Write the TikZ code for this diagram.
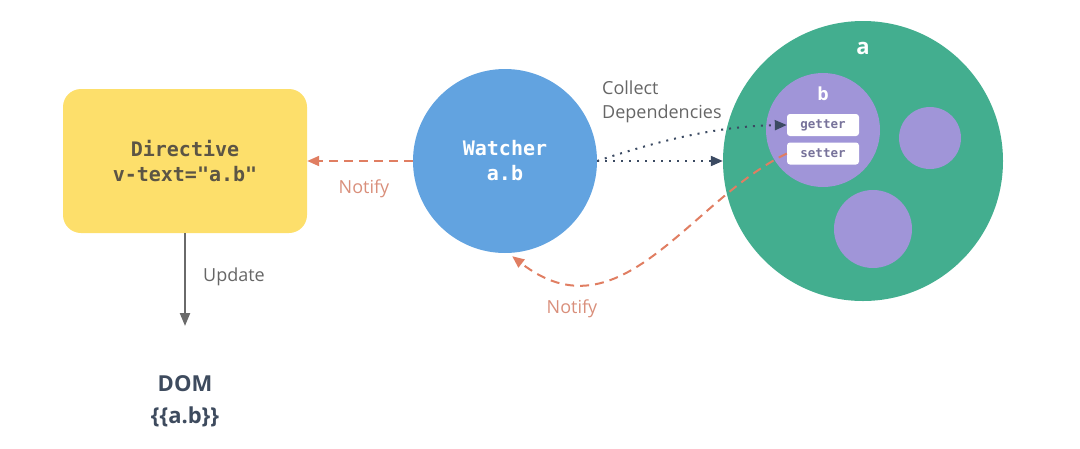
\documentclass[tikz,border=0pt]{standalone}
\usepackage{fontspec}
\setmainfont{Open Sans}
\newfontfamily\monof{DejaVu Sans Mono}
\usetikzlibrary{arrows.meta}
\definecolor{cyellow}{HTML}{FDDF6B}
\definecolor{cblue}{HTML}{62A3E0}
\definecolor{cgreen}{HTML}{43AE8F}
\definecolor{cpurple}{HTML}{A095D8}
\definecolor{cnavy}{HTML}{3B4A62}
\definecolor{csalmon}{HTML}{E07E62}
\definecolor{cnotify}{HTML}{D98F7B}
\definecolor{cgray}{HTML}{6A6A6A}
\definecolor{clabel}{HTML}{666666}
\definecolor{cdirtext}{HTML}{5C5545}
\definecolor{cgstext}{HTML}{77729A}
\definecolor{cdom}{HTML}{3E4B5E}
\tikzset{
  dirbox/.style={fill=cyellow, draw=none, rounded corners=18pt, minimum width=244pt, minimum height=144pt, align=center, text=cdirtext, font=\monof\bfseries\fontsize{20}{25}\selectfont},
  watchnode/.style={circle, fill=cblue, draw=none, minimum size=184pt, align=center, text=white, font=\monof\bfseries\fontsize{20}{25}\selectfont},
  objcircle/.style={circle, fill=cgreen, draw=none, minimum size=#1, inner sep=0pt},
  propcircle/.style={circle, fill=cpurple, draw=none, minimum size=#1, inner sep=0pt},
  accbox/.style={fill=white, draw=none, rounded corners=3pt, minimum width=72pt, minimum height=22pt, inner sep=0pt, text=cgstext, font=\monof\bfseries\fontsize{12.5}{14}\selectfont},
  circlabel/.style={text=white, font=\bfseries\fontsize{#1}{#1}\selectfont, inner sep=0pt},
  edgelabel/.style={text=clabel, font=\fontsize{18}{24}\selectfont, inner sep=0pt},
  notifylabel/.style={text=cnotify, font=\fontsize{18}{24}\selectfont, inner sep=0pt},
  notifyline/.style={draw=csalmon, line width=2pt, dash pattern=on 9pt off 6pt, -{Triangle[length=12pt,width=10pt]}},
  collectline/.style={draw=cnavy, line width=2pt, dash pattern=on 2pt off 6pt, -{Triangle[length=12pt,width=10pt]}},
  updateline/.style={draw=cgray, line width=2.2pt, -{Triangle[length=13pt,width=10pt]}},
  domtext/.style={text=cdom, align=center, font=\bfseries\fontsize{22}{32}\selectfont},
}
\begin{document}
\begin{tikzpicture}[x=1pt,y=-1pt]
\useasboundingbox (0,0) rectangle (1080,448);
% nodes
\node[dirbox] (dir) at (185,161) {Directive\\v-text="a.b"};
\node[watchnode] (w) at (505,161) {Watcher\\a.b};
\node[objcircle=280pt] (A) at (863,161) {};
\node[circlabel=22] (alabel) at (863,48) {a};
\node[propcircle=114pt] (B) at (823,130) {};
\node[circlabel=18] (blabel) at (823,94) {b};
\node[propcircle=62pt] (C1) at (930,138) {};
\node[propcircle=78pt] (C2) at (873,229) {};
\node[accbox] (g) at (823,125) {getter};
\node[accbox] (s) at (823,153.5) {setter};
\node[domtext, anchor=base] (dom) at (185,423) {DOM\\\{\{a.b\}\}};
\coordinate (updEnd) at (185,326);
% labels
\node[edgelabel, anchor=base west, align=left] (collect) at (602,118) {Collect\\Dependencies};
\node[notifylabel, anchor=base] (n1) at (364,193) {Notify};
\node[notifylabel, anchor=base] (n2) at (572,313) {Notify};
\node[edgelabel, anchor=base west] (upd) at (203,281) {Update};
% connectors
\draw[notifyline] (w.west) -- (dir.east);
\draw[updateline] (dir.south) -- (updEnd);
\draw[collectline] (w.east) -- (A.west);
\draw[collectline] (w.east) .. controls (660,140) and (720,126) .. (g.west);
\draw[notifyline, shorten >=5pt] (s.west) .. controls (690,200) and (620,340) .. (w.272);
\end{tikzpicture}
\end{document}
